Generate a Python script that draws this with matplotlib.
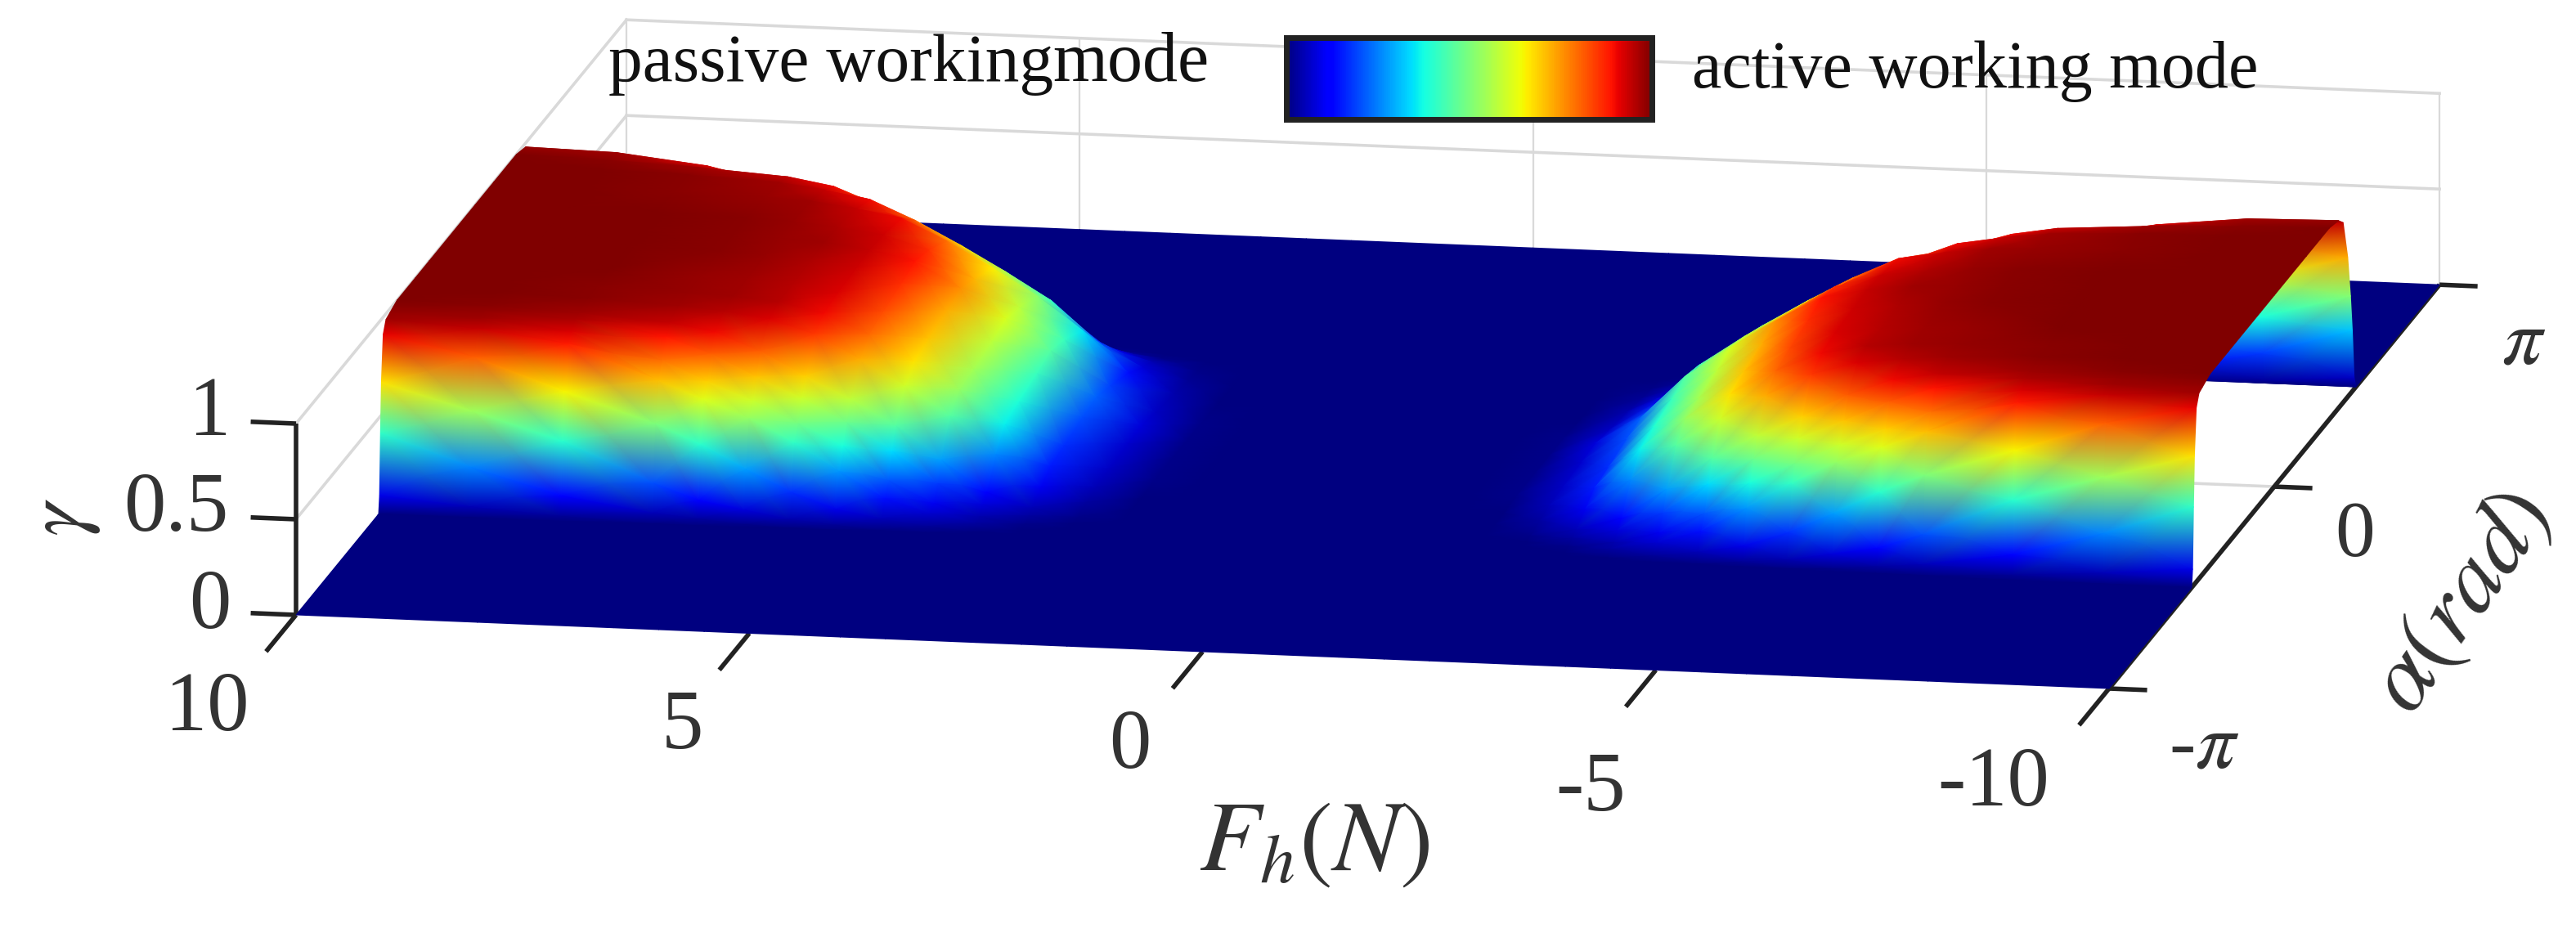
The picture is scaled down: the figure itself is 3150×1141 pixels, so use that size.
import numpy as np
import matplotlib
matplotlib.use('Agg')
import matplotlib.pyplot as plt
from mpl_toolkits.mplot3d import proj3d

plt.rcParams['font.family'] = ['Liberation Serif', 'DejaVu Serif']
plt.rcParams['mathtext.fontset'] = 'stix'

W, H = 3150, 1141

# gamma, F >= 0 half only (the two lobes look mirrored in F)
force_half = [0, 1.5, 2, 2.5, 3, 3.5, 4, 4.5, 5, 5.5, 6, 6.5, 7, 8, 9, 10]
alpha_deg = [-180, -91, -90, -89, -88, -87, -85, -82, -78, -74, -70, -60, -50, -35, -15,
             0, 15, 35, 50, 60, 70, 75, 80, 83, 85, 87, 89, 90, 180]
gamma_half = [
    [0, 0, 0, 0, 0, 0, 0, 0, 0, 0, 0, 0, 0, 0, 0, 0],
    [0, 0, 0, 0, 0, 0, 0, 0, 0, 0, 0, 0, 0, 0, 0, 0],
    [0, 0, 0, 0, 0, 0, 0, 0, 0, 0, 0, 0, 0, 0, 0, 0],
    [0, 0, 0, 0, 0, 0, 0, 0, 0, 0, 0, 0, 0, .02, .05, .09],
    [0, 0, 0, 0, 0, 0, 0, 0, 0, 0, .01, .03, .05, .12, .25, .41],
    [0, 0, 0, 0, 0, 0, 0, 0, .02, .04, .08, .12, .20, .40, .54, .67],
    [0, 0, 0, 0, 0, 0, .02, .05, .09, .17, .28, .40, .50, .65, .81, .91],
    [0, 0, 0, 0, 0, .03, .07, .14, .27, .41, .53, .62, .71, .88, .94, .97],
    [0, 0, 0, 0, .01, .04, .10, .21, .38, .49, .60, .69, .79, .92, .97, .98],
    [0, 0, 0, 0, .03, .08, .18, .34, .48, .60, .70, .81, .89, .96, .98, .99],
    [0, 0, 0, .01, .05, .12, .28, .45, .58, .69, .81, .90, .94, .97, .99, 1],
    [0, 0, 0, .03, .10, .26, .45, .60, .73, .85, .92, .95, .97, .99, 1, 1],
    [0, 0, 0, .05, .15, .36, .53, .67, .80, .90, .95, .97, .98, .99, 1, 1],
    [0, 0, .01, .06, .17, .39, .55, .70, .83, .92, .95, .97, .98, 1, 1, 1],
    [0, 0, .01, .07, .20, .42, .58, .73, .86, .93, .96, .98, .99, 1, 1, 1],
    [0, 0, .01, .08, .22, .45, .61, .76, .89, .94, .97, .98, .99, 1, 1, 1],
    [0, 0, .01, .06, .19, .42, .58, .72, .86, .93, .96, .98, .99, 1, 1, 1],
    [0, 0, 0, .04, .14, .35, .52, .66, .79, .90, .94, .97, .98, .99, 1, 1],
    [0, 0, 0, .02, .08, .21, .41, .55, .68, .80, .90, .94, .97, .99, 1, 1],
    [0, 0, 0, .01, .05, .12, .28, .45, .58, .69, .81, .90, .94, .97, .99, 1],
    [0, 0, 0, 0, .01, .04, .10, .21, .38, .49, .60, .69, .79, .92, .97, .98],
    [0, 0, 0, 0, 0, .01, .03, .07, .12, .22, .36, .47, .56, .72, .87, .94],
    [0, 0, 0, 0, 0, 0, 0, .01, .03, .06, .10, .17, .26, .45, .60, .73],
    [0, 0, 0, 0, 0, 0, 0, 0, 0, .01, .03, .06, .09, .20, .38, .51],
    [0, 0, 0, 0, 0, 0, 0, 0, 0, 0, .01, .02, .03, .09, .18, .32],
    [0, 0, 0, 0, 0, 0, 0, 0, 0, 0, 0, 0, 0, .01, .03, .06],
    [0, 0, 0, 0, 0, 0, 0, 0, 0, 0, 0, 0, 0, 0, 0, 0],
    [0, 0, 0, 0, 0, 0, 0, 0, 0, 0, 0, 0, 0, 0, 0, 0],
    [0, 0, 0, 0, 0, 0, 0, 0, 0, 0, 0, 0, 0, 0, 0, 0],
]
force_ticks = [10, 5, 0, -5, -10]
force_labels = ['10', '5', '0', '-5', '-10']
alpha_ticks = [-np.pi, 0, np.pi]
alpha_labels = ['-$\\pi$', '0', '$\\pi$']
gamma_ticks = [0, 0.5, 1]
gamma_labels = ['0', '0.5', '1']

# mirror out to F < 0, back row first so the front paints over it
g = np.array(gamma_half)
g = np.hstack([g[:, :0:-1], g])[::-1]
force = np.array(force_half, dtype=float)
force = np.concatenate([-force[:0:-1], force])
alpha = np.radians(alpha_deg)[::-1]

fig = plt.figure(figsize=(W / 100, H / 100), dpi=100)
fig.patch.set_facecolor('white')

side = W / H
ax = fig.add_axes([0, (1 - side) / 2, 1, side], projection='3d', proj_type='ortho')
ax.set_xlim(10, -10)
ax.set_ylim(-np.pi, np.pi)
ax.set_zlim(0, 1)
ax.view_init(elev=12.87, azim=-79.67)
ax.set_box_aspect((1, 1, 0.1065))
ax.set_axis_off()
ax.patch.set_alpha(0)


def to_pixels(f, a, z):
    x2, y2, _ = proj3d.proj_transform(np.ravel(f), np.ravel(a), np.ravel(z), ax.get_proj())
    xy = ax.transData.transform(np.column_stack([x2, y2]))
    return xy[:, 0].reshape(np.shape(f)), H - xy[:, 1].reshape(np.shape(f))


# scale and shift the 3d box so its floor corners sit where they are in the picture
fig.canvas.draw()
x0, _ = to_pixels([10.0], [-np.pi], [0.0])
x1, _ = to_pixels([-10.0], [-np.pi], [0.0])
ax.set_box_aspect((1, 1, 0.1065), zoom=2217 / (x1[0] - x0[0]))
fig.canvas.draw()
x0, y0 = to_pixels([10.0], [-np.pi], [0.0])
pos = ax.get_position(original=True)
ax.set_position([pos.x0 + (362 - x0[0]) / W, pos.y0 - (752 - y0[0]) / H, pos.width, pos.height])
fig.canvas.draw()

# light grid on the back walls
grid = dict(color='#d9d9d9', lw=2.6, zorder=1)
for f in force_ticks:
    ax.plot([f, f], [np.pi, np.pi], [0, 1], color='#d9d9d9', lw=1.6, zorder=1)
for z in gamma_ticks[1:]:
    ax.plot([10, -10], [np.pi, np.pi], [z, z], **grid)
    ax.plot([10, 10], [-np.pi, np.pi], [z, z], **grid)
ax.plot([10, -10], [0, 0], [0, 0], **grid)

# black axes and ticks
dark = dict(color='#222222', lw=4, zorder=3, solid_capstyle='butt')
ax.plot([-10, -10], [-np.pi, np.pi], [0, 0], **dark)
ax.plot([10, 10], [-np.pi, -np.pi], [0, 1], **dark)
for f in force_ticks:
    ax.plot([f, f], [-np.pi, -np.pi - 0.57], [0, 0], **dark)
for a in alpha_ticks:
    ax.plot([-10, -10.42], [a, a], [0, 0], **dark)
for z in gamma_ticks:
    ax.plot([10, 10.5], [-np.pi, -np.pi], [z, z], **dark)

# everything 2d goes on a pixel overlay, the surface uses gouraud for the smooth colours
ov = fig.add_axes([0, 0, 1, 1])
ov.set_xlim(0, W)
ov.set_ylim(H, 0)
ov.axis('off')
ov.patch.set_alpha(0)

F, A = np.meshgrid(force, alpha)
X, Y = to_pixels(F, A, g)
mesh = ov.pcolormesh(X, Y, g, shading='gouraud', cmap='jet', vmin=0, vmax=1)

cax = fig.add_axes([1573 / W, 1 - 146 / H, (2020 - 1573) / W, 100 / H])
cbar = fig.colorbar(mesh, cax=cax, orientation='horizontal')
cbar.set_ticks([])
cbar.outline.set_edgecolor('#222222')
cbar.outline.set_linewidth(5)

ov.text(744, 99, 'passive working', fontsize=60, color='#111111', ha='left', va='baseline')
ov.text(1287, 99, 'mode', fontsize=62, color='#111111', ha='left', va='baseline')
ov.text(2069, 107, 'active working mode', fontsize=59, color='#111111', ha='left', va='baseline')

tick_color = '#333333'
force_xy = [(253, 868), (834, 890), (1382, 914), (1945, 966), (2438, 960)]
for (x, y), s in zip(force_xy, force_labels):
    ov.text(x, y, s, fontsize=74, color=tick_color, ha='center', va='center')
gamma_xy = [(257, 743), (215, 624), (257, 507)]
for (x, y), s in zip(gamma_xy, gamma_labels):
    ov.text(x, y, s, fontsize=74, color=tick_color, ha='center', va='center')
alpha_xy = [(2695, 915), (2880, 657), (3086, 421)]
for (x, y), s in zip(alpha_xy, alpha_labels):
    ov.text(x, y, s, fontsize=70, color=tick_color, ha='center', va='center')

ov.text(78, 633, '$\\gamma$', fontsize=74, color=tick_color, rotation=90, ha='center', va='center')
ov.text(3012, 738, '$\\alpha(rad)$', fontsize=84, color=tick_color, rotation=55,
        rotation_mode='anchor', ha='center', va='center')
ov.text(1607, 1035, '$F_h(N)$', fontsize=88, color=tick_color, ha='center', va='center')

fig.savefig('out.png', dpi=100, facecolor='white')
